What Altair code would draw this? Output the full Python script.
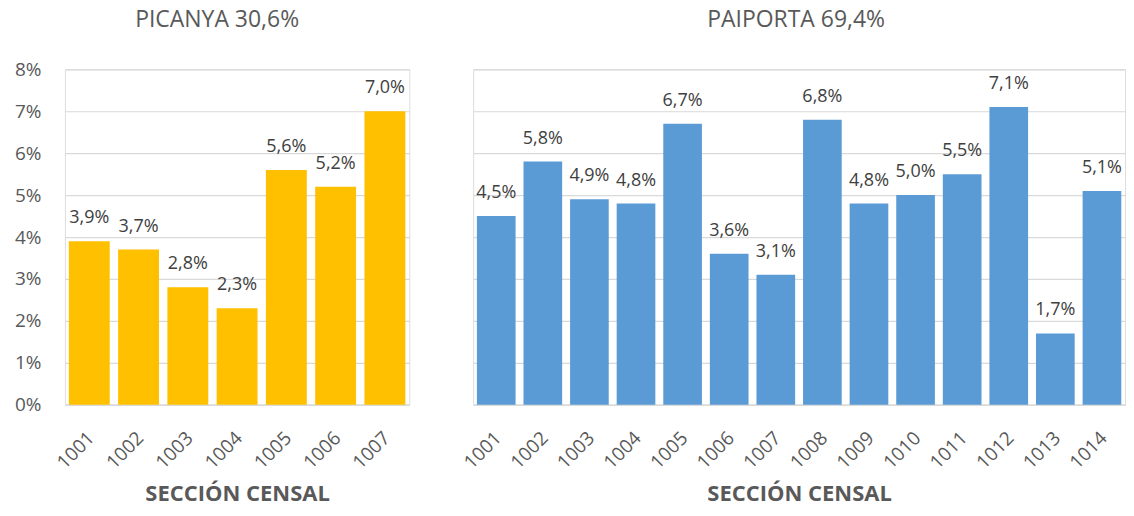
import altair as alt
import pandas as pd

FONT = "Open Sans"
TXT = "#595959"

picanya_sec = ["1001", "1002", "1003", "1004", "1005", "1006", "1007"]
picanya_val = [3.9, 3.7, 2.8, 2.3, 5.6, 5.2, 7.0]

paiporta_sec = ["1001", "1002", "1003", "1004", "1005", "1006", "1007",
                "1008", "1009", "1010", "1011", "1012", "1013", "1014"]
paiporta_val = [4.5, 5.8, 4.9, 4.8, 6.7, 3.6, 3.1, 6.8, 4.8, 5.0, 5.5, 7.1, 1.7, 5.1]

y_ticks = [0, 0.01, 0.02, 0.03, 0.04, 0.05, 0.06, 0.07, 0.08]


def make_df(secs, vals):
    return pd.DataFrame({
        "sec": secs,
        "v": [x / 100 for x in vals],
        "lbl": [f"{x:.1f}".replace(".", ",") + "%" for x in vals],
    })


def panel(df, title, color, width, show_y, title_dx, title_offset):
    x_enc = alt.X("sec:N", sort=None,
                  scale=alt.Scale(paddingInner=0.17, paddingOuter=0.08),
                  axis=alt.Axis(title="SECCIÓN CENSAL", labelAngle=-45,
                                labelAlign="right", labelBaseline="middle",
                                labelPadding=30, labelOffset=2, ticks=False,
                                domainColor="#D9D9D9", domainWidth=1.5,
                                labelFont=FONT, labelFontSize=19, labelColor=TXT,
                                titleFont=FONT, titleFontSize=22, titleFontWeight="bold",
                                titleColor=TXT, titlePadding=11))
    if show_y:
        y_axis = alt.Axis(title=None, format="%", values=y_ticks, ticks=False, domain=False,
                          gridColor="#D9D9D9", gridWidth=1.2,
                          labelFont=FONT, labelFontSize=19, labelColor=TXT,
                          labelPadding=24, minExtent=56, maxExtent=56)
    else:
        y_axis = alt.Axis(title=None, values=y_ticks, ticks=False, domain=False,
                          labels=False, gridColor="#D9D9D9", gridWidth=1.2,
                          minExtent=0, maxExtent=0)
    y_enc = alt.Y("v:Q", scale=alt.Scale(domain=[0, 0.08], nice=False), axis=y_axis)
    base = alt.Chart(df)
    bars = base.mark_bar(color=color).encode(x=x_enc, y=y_enc)
    text = base.mark_text(font=FONT, fontSize=18, color="#404040",
                          baseline="alphabetic", dy=-18).encode(
        x=alt.X("sec:N", sort=None), y=alt.Y("v:Q"), text="lbl:N")
    return alt.layer(bars, text).properties(
        width=width, height=336,
        title=alt.TitleParams(title, font=FONT, fontSize=23, fontWeight="normal",
                              color=TXT, offset=title_offset, frame="group", dx=title_dx),
    )


left = panel(make_df(picanya_sec, picanya_val), "PICANYA 30,6%", "#FFC000", 345, True, -20, 28)
right = panel(make_df(paiporta_sec, paiporta_val), "PAIPORTA 69,4%", "#5B9BD5", 653, False, -3, 37)

chart = alt.hconcat(left, right, spacing=64, bounds="flush").properties(
    padding={"left": 0, "top": 0, "right": 0, "bottom": 0}
).configure_view(stroke=None).configure(background="white")

chart.save("out.html", embed_options={"renderer": "svg", "actions": False})
